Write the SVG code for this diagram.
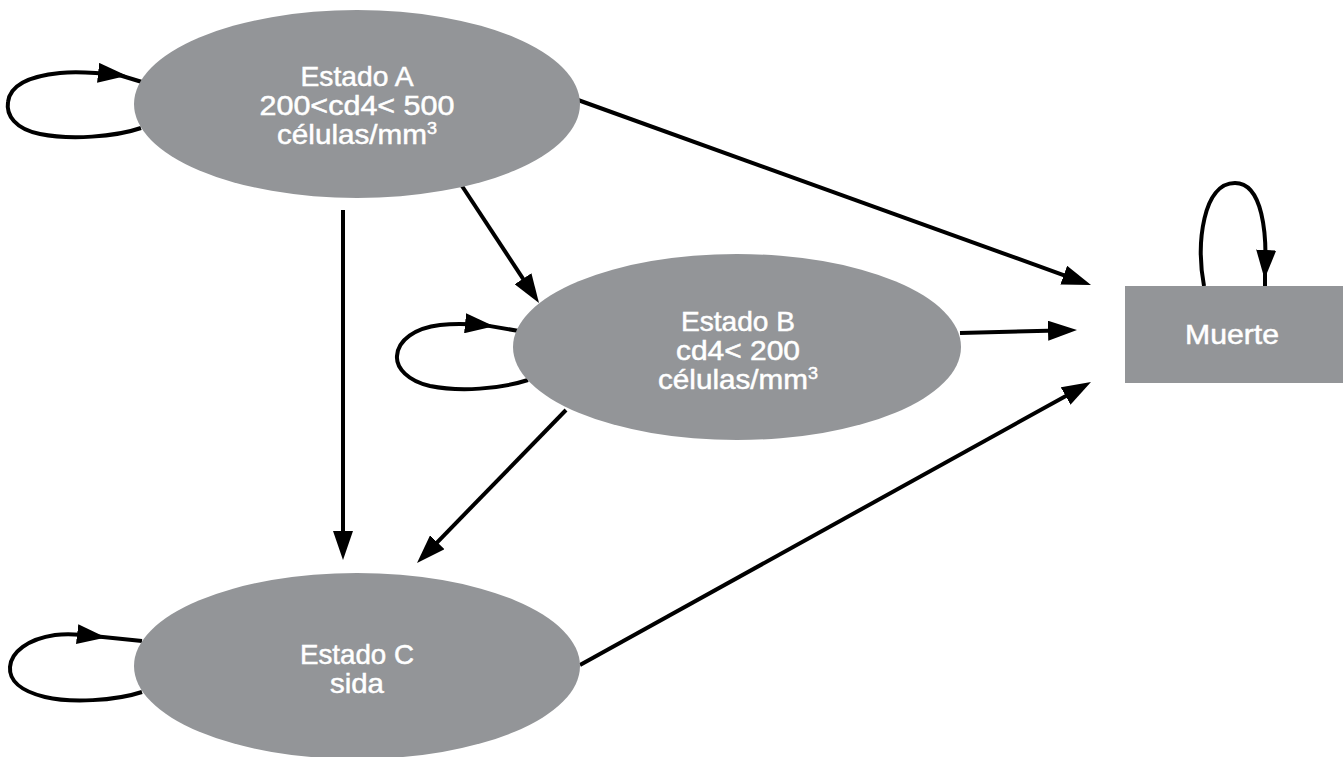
<svg xmlns="http://www.w3.org/2000/svg" width="1343" height="757" viewBox="0 0 1343 757">
<style>
.node{fill:#939598;}
.lbl{font-family:"Liberation Sans","Arial",sans-serif;font-size:28px;fill:#ffffff;stroke:#ffffff;stroke-width:0.5px;text-anchor:middle;}
.sup{font-size:17px;}
.conn{fill:none;stroke:#000000;stroke-width:4;}
</style>
<defs>
<marker id="arr" viewBox="0 0 29 20" refX="21" refY="10" markerWidth="29" markerHeight="20" markerUnits="userSpaceOnUse" orient="auto">
<path d="M0,0 L29,10 L0,20 Z" fill="#000000"/>
</marker>
</defs>
<rect width="1343" height="757" fill="#ffffff"/>
<g id="connectors">
<path class="conn" d="M578,100 L1083.5,282.3" marker-end="url(#arr)"/>
<path class="conn" d="M462,186 L534.6,296.3" marker-end="url(#arr)"/>
<path class="conn" d="M343,210 L343,552" marker-end="url(#arr)"/>
<path class="conn" d="M960,333 L1069,330.2" marker-end="url(#arr)"/>
<path class="conn" d="M566,410 L422.6,557.3" marker-end="url(#arr)"/>
<path class="conn" d="M580,665 L1084,385.9" marker-end="url(#arr)"/>
<path class="conn" d="M141,128 C115,137 70,140 40,134 C15,129 6,115 8,102 C10,85 30,76 60,73 C80,71 100,73 119,75" marker-end="url(#arr)"/>
<path class="conn" d="M119,75 L142,82"/>
<path class="conn" d="M528,380 C500,389 460,392 430,386 C408,381 396,368 397,356 C398,340 415,328 440,325 C458,323 472,324 486,325.4" marker-end="url(#arr)"/>
<path class="conn" d="M486,325.4 L519,331"/>
<path class="conn" d="M142,692 C115,701 70,703 45,697 C20,691 9,680 10,667 C11,652 28,639 55,635 C72,633 85,635 98,636.5" marker-end="url(#arr)"/>
<path class="conn" d="M98,636.5 L142,641"/>
<path class="conn" d="M1204,286 C1196,243 1203,183 1235,183 C1263,183 1267,235 1265,271" marker-end="url(#arr)"/>
<path class="conn" d="M1265,271 L1265,286"/>
</g>
<g id="estado-a">
<ellipse class="node" cx="357" cy="104" rx="223" ry="94"/>
<text class="lbl" x="357" y="86" textLength="113" lengthAdjust="spacingAndGlyphs">Estado A</text>
<text class="lbl" x="357" y="115" textLength="195" lengthAdjust="spacingAndGlyphs">200&lt;cd4&lt; 500</text>
<text class="lbl" x="357" y="144" textLength="160" lengthAdjust="spacingAndGlyphs">células/mm<tspan class="sup" dy="-10">3</tspan></text>
</g>
<g id="estado-b">
<ellipse class="node" cx="737" cy="347" rx="224" ry="93"/>
<text class="lbl" x="738" y="331" textLength="114" lengthAdjust="spacingAndGlyphs">Estado B</text>
<text class="lbl" x="738" y="360" textLength="124" lengthAdjust="spacingAndGlyphs">cd4&lt; 200</text>
<text class="lbl" x="738" y="389" textLength="160" lengthAdjust="spacingAndGlyphs">células/mm<tspan class="sup" dy="-10">3</tspan></text>
</g>
<g id="estado-c">
<ellipse class="node" cx="357" cy="666" rx="223" ry="93"/>
<text class="lbl" x="357" y="664" textLength="114" lengthAdjust="spacingAndGlyphs">Estado C</text>
<text class="lbl" x="357" y="693" textLength="54" lengthAdjust="spacingAndGlyphs">sida</text>
</g>
<g id="muerte">
<rect class="node" x="1125" y="286" width="218" height="97"/>
<text class="lbl" x="1232" y="344" textLength="94" lengthAdjust="spacingAndGlyphs">Muerte</text>
</g>
</svg>
